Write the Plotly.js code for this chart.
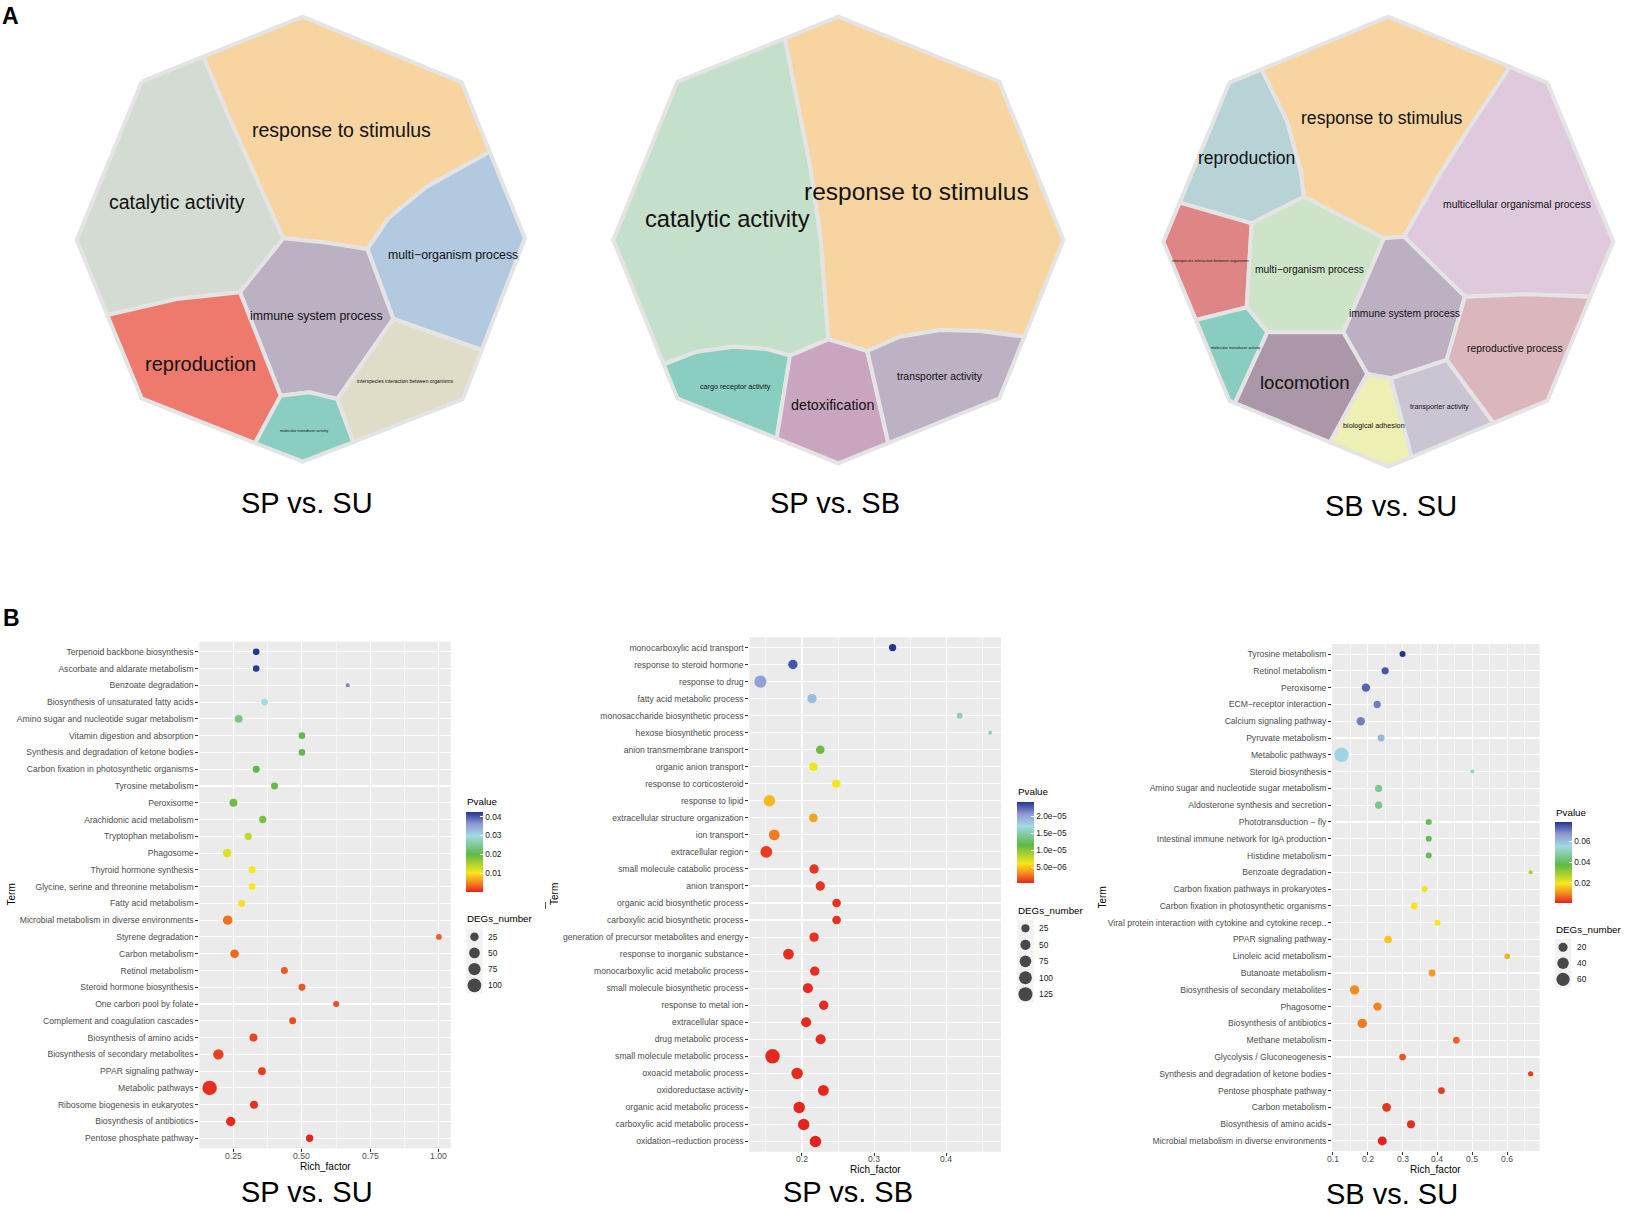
<!DOCTYPE html>
<html>
<head>
<meta charset="utf-8">
<script src="https://cdn.plot.ly/plotly-3.0.1.min.js"></script>
<style>html,body{margin:0;padding:0;background:#fff;}#chart{width:1628px;height:1211px;}</style>
</head>
<body>
<div id="chart"></div>
<script>
// ================= DATA : panel B bubble charts =================
const spsuTerms = ['Terpenoid backbone biosynthesis','Ascorbate and aldarate metabolism','Benzoate degradation','Biosynthesis of unsaturated fatty acids','Amino sugar and nucleotide sugar metabolism','Vitamin digestion and absorption','Synthesis and degradation of ketone bodies','Carbon fixation in photosynthetic organisms','Tyrosine metabolism','Peroxisome','Arachidonic acid metabolism','Tryptophan metabolism','Phagosome','Thyroid hormone synthesis','Glycine, serine and threonine metabolism','Fatty acid metabolism','Microbial metabolism in diverse environments','Styrene degradation','Carbon metabolism','Retinol metabolism','Steroid hormone biosynthesis','One carbon pool by folate','Complement and coagulation cascades','Biosynthesis of amino acids','Biosynthesis of secondary metabolites','PPAR signaling pathway','Metabolic pathways','Ribosome biogenesis in eukaryotes','Biosynthesis of antibiotics','Pentose phosphate pathway'];
const spsuRich = [0.333,0.333,0.667,0.364,0.269,0.5,0.5,0.333,0.4,0.25,0.357,0.304,0.227,0.318,0.318,0.28,0.229,1.0,0.254,0.436,0.5,0.625,0.466,0.323,0.195,0.354,0.163,0.325,0.24,0.528];
const spsuP = [0.0426,0.0422,0.0375,0.0299,0.0240,0.0206,0.0206,0.0202,0.0198,0.0193,0.0185,0.0138,0.0121,0.0105,0.0105,0.0102,0.0041,0.0033,0.0037,0.0030,0.0028,0.0024,0.0022,0.0020,0.0018,0.0014,0.0009,0.0009,0.0007,0.0003];
const spsuDEGs = [11,11,4,11,20,11,11,13,13,20,15,15,26,13,13,13,34,7,26,13,13,8,13,20,46,18,115,20,34,15];

const spsbTerms = ['monocarboxylic acid transport','response to steroid hormone','response to drug','fatty acid metabolic process','monosaccharide biosynthetic process','hexose biosynthetic process','anion transmembrane transport','organic anion transport','response to corticosteroid','response to lipid','extracellular structure organization','ion transport','extracellular region','small molecule catabolic process','anion transport','organic acid biosynthetic process','carboxylic acid biosynthetic process','generation of precursor metabolites and energy','response to inorganic substance','monocarboxylic acid metabolic process','small molecule biosynthetic process','response to metal ion','extracellular space','drug metabolic process','small molecule metabolic process','oxoacid metabolic process','oxidoreductase activity','organic acid metabolic process','carboxylic acid metabolic process','oxidation−reduction process'];
const spsbRich = [0.3257,0.1875,0.1424,0.2139,0.4187,0.4609,0.2254,0.2158,0.2475,0.1549,0.2158,0.1616,0.1506,0.2168,0.2254,0.248,0.248,0.2168,0.1813,0.2177,0.2082,0.2302,0.2058,0.2259,0.1592,0.1933,0.2297,0.1962,0.2024,0.2187];
const spsbP = [2.41e-5,2.29e-5,2.0e-5,1.84e-5,1.53e-5,1.55e-5,1.1e-5,6.2e-6,5.9e-6,4.5e-6,3.8e-6,2.6e-6,9e-7,7e-7,6.5e-7,6e-7,6e-7,5.5e-7,5e-7,5e-7,4.5e-7,4e-7,4e-7,3.5e-7,3e-7,3e-7,2.5e-7,2.5e-7,2.2e-7,2e-7];
const spsbDEGs = [17,39,84,39,8,4,30,30,30,71,30,59,78,39,39,30,30,39,59,39,49,39,49,49,135,71,59,71,71,71];

const sbsuTerms = ['Tyrosine metabolism','Retinol metabolism','Peroxisome','ECM−receptor interaction','Calcium signaling pathway','Pyruvate metabolism','Metabolic pathways','Steroid biosynthesis','Amino sugar and nucleotide sugar metabolism','Aldosterone synthesis and secretion','Phototransduction − fly','Intestinal immune network for IgA production','Histidine metabolism','Benzoate degradation','Carbon fixation pathways in prokaryotes','Carbon fixation in photosynthetic organisms','Viral protein interaction with cytokine and cytokine recep..','PPAR signaling pathway','Linoleic acid metabolism','Butanoate metabolism','Biosynthesis of secondary metabolites','Phagosome','Biosynthesis of antibiotics','Methane metabolism','Glycolysis / Gluconeogenesis','Synthesis and degradation of ketone bodies','Pentose phosphate pathway','Carbon metabolism','Biosynthesis of amino acids','Microbial metabolism in diverse environments'];
const sbsuRich = [0.3,0.25,0.1948,0.2271,0.1802,0.2385,0.125,0.5,0.2313,0.2313,0.375,0.375,0.375,0.667,0.3635,0.3333,0.4,0.2583,0.6,0.3844,0.1625,0.2281,0.1844,0.4542,0.3,0.667,0.4115,0.2542,0.324,0.2417];
const sbsuP = [0.0786,0.0748,0.0733,0.0702,0.0700,0.0610,0.0562,0.0515,0.0453,0.0450,0.0393,0.0392,0.0390,0.0283,0.0205,0.0197,0.0195,0.0158,0.0143,0.0116,0.0100,0.0093,0.0085,0.0062,0.0054,0.0030,0.0029,0.0023,0.0015,0.0007];
const sbsuDEGs = [5,9,15,9,15,8,76,2,9,9,5,5,5,2,5,7,5,11,4,8,22,15,22,7,7,3,7,17,13,19];

// tick labels / legend breaks
const spsuXTicks = [0.25,0.5,0.75,1.0];
const spsuXTickText = ['0.25','0.50','0.75','1.00'];
const spsbXTicks = [0.2,0.3,0.4];
const spsbXTickText = ['0.2','0.3','0.4'];
const sbsuXTicks = [0.1,0.2,0.3,0.4,0.5,0.6];
const sbsuXTickText = ['0.1','0.2','0.3','0.4','0.5','0.6'];
const spsuSizeBreaks = [25,50,75,100];
const spsbSizeBreaks = [25,50,75,100,125];
const sbsuSizeBreaks = [20,40,60];
const spsuPTicks = [0.01,0.02,0.03,0.04];
const spsuPTickText = ['0.01','0.02','0.03','0.04'];
const spsbPTicks = [5e-6,1e-5,1.5e-5,2e-5];
const spsbPTickText = ['5.0e−06','1.0e−05','1.5e−05','2.0e−05'];
const sbsuPTicks = [0.02,0.04,0.06];
const sbsuPTickText = ['0.02','0.04','0.06'];

// ================= DATA : panel A Voronoi treemaps (cells in local units) =================
const tm1Names = ['catalytic activity','response to stimulus','multi−organism process','immune system process','reproduction','molecular transducer activity','interspecies interaction between organisms'];
const tm1Cells = [
 [[245,230],[430,155],[500,320],[590,520],[670,700],[540,862],[350,882],[142,930],[50,705]],
 [[430,155],[728,35],[1205,232],[1289,440],[1100,545],[985,640],[922,732],[790,712],[670,700],[590,520],[500,320]],
 [[1289,440],[1395,700],[1265,1035],[1000,942],[922,732],[985,640],[1100,545]],
 [[670,700],[790,712],[922,732],[1000,942],[832,1182],[748,1162],[662,1172],[540,862]],
 [[142,930],[350,882],[540,862],[662,1172],[585,1314],[245,1180]],
 [[662,1172],[748,1162],[832,1182],[880,1311],[728,1370],[585,1314]],
 [[1000,942],[1265,1035],[1208,1183],[880,1311],[832,1182]]
];
const tm2Names = ['catalytic activity','response to stimulus','cargo receptor activity','detoxification','transporter activity'];
const tm2Cells = [
 [[615,100],[292,230],[100,705],[251,1078],[350,1040],[460,1025],[560,1032],[630,1052],[745,1003],[722,700],[690,480],[648,270]],
 [[615,100],[775,35],[1258,230],[1450,705],[1333,995],[1200,978],[1080,975],[960,995],[862,1038],[745,1003],[722,700],[690,480],[648,270]],
 [[251,1078],[350,1040],[460,1025],[560,1032],[630,1052],[590,1300],[292,1180]],
 [[630,1052],[745,1003],[862,1038],[895,1180],[925,1314],[775,1375],[590,1300]],
 [[862,1038],[960,995],[1080,975],[1200,978],[1333,995],[1258,1180],[925,1314],[895,1180]]
];
const tm3Names = ['reproduction','response to stimulus','multicellular organismal process','interspecies interaction between organisms','multi−organism process','immune system process','reproductive process','molecular transducer activity','locomotion','biological adhesion','transporter activity'];
const tm3Cells = [
 [[358,188],[455,148],[530,300],[572,450],[582,530],[425,610],[209,548]],
 [[455,148],[835,-10],[1200,141],[1090,305],[985,470],[882,650],[822,655],[582,530],[572,450],[530,300]],
 [[1200,141],[1312,188],[1510,665],[1441,830],[1250,823],[1065,830],[882,650],[985,470],[1090,305]],
 [[209,548],[425,610],[410,862],[258,900],[160,665]],
 [[582,530],[822,655],[700,937],[472,937],[410,862],[425,610]],
 [[822,655],[882,650],[1065,830],[1010,1020],[842,1075],[772,1062],[700,937]],
 [[1065,830],[1250,823],[1441,830],[1312,1142],[1150,1209],[1010,1020]],
 [[258,900],[410,862],[472,937],[375,1149],[358,1142]],
 [[472,937],[700,937],[772,1062],[660,1267],[375,1149]],
 [[772,1062],[842,1075],[905,1311],[835,1340],[660,1267]],
 [[842,1075],[1010,1020],[1150,1209],[905,1311]]
];

// ================= STYLE / LAYOUT =================
const W = 1628, H = 1211;
const FONT = '"Liberation Sans", Arial, Helvetica, sans-serif';
const pScale = [[0,'#e5231e'],[0.12,'#f58b1f'],[0.24,'#f8e71c'],[0.47,'#5eb947'],[0.70,'#a2d9e4'],[0.85,'#8f99d3'],[1,'#24358f']];
const tm1Colors = ['#d3dbd2','#f8d5a0','#b2c9e0','#bcb0c3','#ee7a6e','#89cec0','#dfdcc8'];
const tm2Colors = ['#c4dfca','#f8d5a0','#89cec0','#c9a5bf','#bdb1c4'];
const tm3Colors = ['#b7d3d6','#f8d5a0','#dfc9dd','#e08585','#cde4c9','#bdb0c3','#dbb6bc','#88cdc0','#ac97a9','#eeefb2','#cbc4d3'];
const tm1Label = [[350,590,19.5],[845,375,19.5],[1180,750,12.3],[768,932,12.3],[420,1078,20],[733,1277,3.8],[1035,1127,5]];
const tm2Label = [[443,643,23.7],[1008,560,24.5],[465,1145,7.2],[758,1200,14.3],[1080,1115,10.4]];
const tm3Label = [[410,413,17.5],[815,295,17.6],[1221,553,10.4],[302,720,4],[597,748,10.3],[882,880,10.3],[1215,985,10.3],[376,983,3.9],[582,1087,18.5],[793,1215,7.25],[988,1158,7.2]];
const TICKFS = 8.6;

const data = [], annotations = [], shapes = [];
const layout = {
  width: W, height: H, margin: {l:0,r:0,t:0,b:0,pad:0},
  paper_bgcolor: '#ffffff', plot_bgcolor: 'rgba(0,0,0,0)',
  showlegend: false, font: {family: FONT, color: '#000000'}
};

function fx(px){ return px / W; }
function fy(py){ return 1 - py / H; }
function pxAnn(x, y, text, size, extra){
  annotations.push(Object.assign({xref:'x4', yref:'y4', x:x, y:y, text:text, showarrow:false,
    font:{family:FONT, size:size, color:'#000000'}, xanchor:'center', yanchor:'middle', borderpad:0}, extra||{}));
}

// overlay axis in page pixels
layout.xaxis4 = {domain:[0,1], range:[0,W], visible:false, fixedrange:true, anchor:'y4'};
layout.yaxis4 = {domain:[0,1], range:[H,0], visible:false, fixedrange:true, anchor:'x4'};

// ---------- Treemaps ----------
function treemap(idx, names, cells, colors, labels, ox, oy){
  const xa = 'x'+idx, ya = 'y'+idx;
  layout['xaxis'+idx] = {domain:[0,1], range:[-ox*3, (W-ox)*3], visible:false, fixedrange:true, anchor:ya};
  layout['yaxis'+idx] = {domain:[0,1], range:[(H-oy)*3, -oy*3], visible:false, fixedrange:true, anchor:xa};
  cells.forEach((c, i) => {
    const xs = c.map(v=>v[0]).concat([c[0][0]]);
    const ys = c.map(v=>v[1]).concat([c[0][1]]);
    data.push({type:'scatter', mode:'lines', x:xs, y:ys, xaxis:xa, yaxis:ya, fill:'toself',
      fillcolor:colors[i], line:{color:'#e4e4e4', width:4}, hoverinfo:'skip', name:names[i]});
  });
  names.forEach((n, i) => {
    annotations.push({xref:xa, yref:ya, x:labels[i][0], y:labels[i][1], text:n, showarrow:false,
      font:{family:FONT, size:labels[i][2], color:'#111111'}, xanchor:'center', yanchor:'middle', borderpad:0});
  });
}
treemap(5, tm1Names, tm1Cells, tm1Colors, tm1Label, 60, 5);
treemap(6, tm2Names, tm2Cells, tm2Colors, tm2Label, 580, 5);
treemap(7, tm3Names, tm3Cells, tm3Colors, tm3Label, 1110, 20);

// ---------- Bubble charts ----------
function bubble(n, terms, rich, p, degs, xt, xtt, cfg){
  const xa = n===1 ? 'x' : 'x'+n, ya = n===1 ? 'y' : 'y'+n;
  const lo = Math.min(...degs), hi = Math.max(...degs);
  const sz = v => 4.0 + 10.4*Math.sqrt(Math.max(0,(v-lo))/(hi-lo));
  const b = cfg.box;
  const half = (xt[1]-xt[0])/2;
  layout[n===1?'xaxis':'xaxis'+n] = {
    domain:[fx(b[0]), fx(b[2])], range:cfg.xr, anchor:ya, tickmode:'array', tickvals:xt, showticklabels:false,
    showgrid:true, gridcolor:'#ffffff', gridwidth:1.1,
    minor:{tick0:xt[0]-half, dtick:2*half, showgrid:true, gridcolor:'#ffffff', gridwidth:0.55, ticks:''},
    zeroline:false, showline:false, ticks:'outside', ticklen:3, tickwidth:1, tickcolor:'#333333', fixedrange:true
  };
  layout[n===1?'yaxis':'yaxis'+n] = {
    domain:[fy(b[3]), fy(b[1])], type:'category', categoryorder:'array', categoryarray:terms,
    range:[terms.length-1+0.6, -0.6], autorange:false, anchor:xa,
    showgrid:true, gridcolor:'#ffffff', gridwidth:1.1, zeroline:false, showline:false,
    ticks:'outside', ticklen:3, tickwidth:1, tickcolor:'#333333',
    tickfont:{family:FONT, size:TICKFS, color:'#4d4d4d'}, fixedrange:true
  };
  shapes.push({type:'rect', xref:xa+' domain', yref:ya+' domain', x0:0, x1:1, y0:0, y1:1,
    fillcolor:'#ebebeb', line:{width:0}, layer:'below'});
  xt.forEach((v,i)=>annotations.push({xref:xa, yref:'y4', x:v, y:b[3]+7.5, text:xtt[i], showarrow:false,
    font:{family:FONT, size:TICKFS, color:'#4d4d4d'}, xanchor:'center', yanchor:'middle', borderpad:0}));
  const cb = cfg.cb;
  data.push({type:'scatter', mode:'markers', x:rich, y:terms, xaxis:xa, yaxis:ya, hoverinfo:'skip',
    marker:{size:degs.map(sz), color:p, colorscale:pScale, cmin:Math.min(...p), cmax:Math.max(...p),
      opacity:1, line:{width:0}, showscale:true,
      colorbar:{x:fx(cb.x), xanchor:'left', xref:'paper', y:fy(cb.top), yanchor:'top', yref:'paper',
        len:cb.len, lenmode:'pixels', thickness:16.5, thicknessmode:'pixels', xpad:0, ypad:0,
        outlinewidth:0, borderwidth:0, bgcolor:'rgba(0,0,0,0)',
        tickmode:'array', tickvals:cb.vals, ticktext:cb.text, ticks:'inside', ticklen:3, tickwidth:1,
        tickcolor:'#ffffff', tickfont:{family:FONT, size:8.4, color:'#1a1a1a'}}}});
  pxAnn(cb.x, cfg.ptitle, 'Pvalue', 9.8, {xanchor:'left'});
  const L = cfg.sl;
  pxAnn(cb.x, L.title, 'DEGs_number', 9.8, {xanchor:'left'});
  const ys = L.breaks.map((v,i)=>L.y0 + i*L.step);
  shapes.push({type:'rect', xref:'x4', yref:'y4', x0:cb.x, x1:cb.x+16.5, y0:ys[0]-8.2, y1:ys[ys.length-1]+8.2,
    fillcolor:'#f2f2f2', line:{width:0}, layer:'below'});
  data.push({type:'scatter', mode:'markers', xaxis:'x4', yaxis:'y4', hoverinfo:'skip',
    x:L.breaks.map(()=>cb.x+8.25), y:ys, marker:{size:L.breaks.map(sz), color:'#000000', line:{width:0}}});
  L.breaks.forEach((v,i)=>pxAnn(cb.x+21, ys[i], String(v), 8.4, {xanchor:'left', font:{family:FONT,size:8.4,color:'#1a1a1a'}}));
  pxAnn((b[0]+b[2])/2, b[3]+18, 'Rich_factor', 10);
  pxAnn(cfg.termX, (b[1]+b[3])/2, 'Term', 10, {textangle:-90});
}

bubble(1, spsuTerms, spsuRich, spsuP, spsuDEGs, spsuXTicks, spsuXTickText, {
  box:[199.3,641.7,450.7,1148.3], xr:[0.1254,1.043],
  cb:{x:466.2, top:811.7, len:80, vals:spsuPTicks, text:spsuPTickText}, ptitle:801.7,
  sl:{title:918.3, y0:936.7, step:16.2, breaks:spsuSizeBreaks}, termX:10.5
});
bubble(2, spsbTerms, spsbRich, spsbP, spsbDEGs, spsbXTicks, spsbXTickText, {
  box:[749.3,637.3,1001,1151.7], xr:[0.127,0.476],
  cb:{x:1017.2, top:802.3, len:81, vals:spsbPTicks, text:spsbPTickText}, ptitle:791.7,
  sl:{title:910.7, y0:928.3, step:16.5, breaks:spsbSizeBreaks}, termX:554.5
});
bubble(3, sbsuTerms, sbsuRich, sbsuP, sbsuDEGs, sbsuXTicks, sbsuXTickText, {
  box:[1332.1,644,1539.7,1151], xr:[0.098,0.693],
  cb:{x:1554.8, top:822, len:80.7, vals:sbsuPTicks, text:sbsuPTickText}, ptitle:812.3,
  sl:{title:929.3, y0:947.3, step:16, breaks:sbsuSizeBreaks}, termX:1102
});

// small stray mark present in the reference near the middle "Term" label
shapes.push({type:'line', xref:'x4', yref:'y4', x0:545.5, x1:545.5, y0:902, y1:909, line:{color:'#555555', width:1}});

// ---------- panel letters & captions ----------
pxAnn(10, 16, '<b>A</b>', 23);
pxAnn(11, 618, '<b>B</b>', 23);
pxAnn(307, 502.5, 'SP vs. SU', 29);
pxAnn(834.5, 502.5, 'SP vs. SB', 29);
pxAnn(1391, 505.5, 'SB vs. SU', 29);
pxAnn(307, 1191.5, 'SP vs. SU', 29);
pxAnn(847.5, 1191.5, 'SP vs. SB', 29);
pxAnn(1392, 1193.5, 'SB vs. SU', 29);

layout.annotations = annotations;
layout.shapes = shapes;
Plotly.newPlot('chart', data, layout, {staticPlot:true, displayModeBar:false});
</script>
</body>
</html>
